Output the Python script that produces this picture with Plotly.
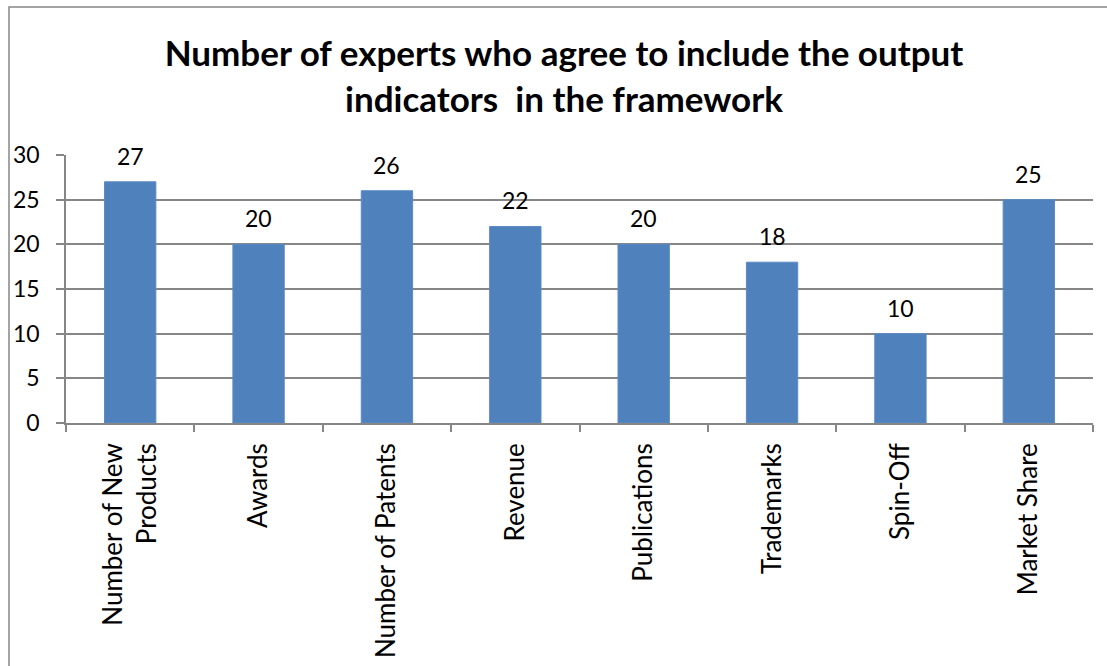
import plotly.graph_objects as go

categories = ["Number of New<br>Products", "Awards", "Number of Patents", "Revenue",
              "Publications", "Trademarks", "Spin-Off", "Market Share"]
experts = [27, 20, 26, 22, 20, 18, 10, 25]
y_ticks = [0, 5, 10, 15, 20, 25, 30]

FONT = "Lato"
BAR = "#4F81BD"
LINE = "#868686"

fig = go.Figure()
fig.add_trace(go.Bar(
    x=categories, y=experts,
    marker=dict(color=BAR, line=dict(color="#5b8bc5", width=1)),
    width=0.4,
    hoverinfo="x+y",
))

# value labels above each bar
for c, v in zip(categories, experts):
    fig.add_annotation(x=c, y=v, text=str(v), showarrow=False,
                       yanchor="middle", yshift=26,
                       font=dict(family=FONT, size=23, color="black"))

# outer chart frame
fig.add_shape(type="rect", xref="paper", yref="paper",
              x0=(9 - 66) / 1027, x1=1.2, y0=-2, y1=(423 - 7) / 268,
              line=dict(color=LINE, width=1.5), layer="below")

fig.update_layout(
    width=1107, height=666,
    margin=dict(l=66, r=14, t=155, b=243, autoexpand=False),
    paper_bgcolor="white", plot_bgcolor="white",
    showlegend=False,
    title=dict(text="<b>Number of experts who agree to include the output<br>indicators  in the framework</b>",
               x=564 / 1107, xanchor="center", y=1 - 66 / 666, yanchor="middle",
               font=dict(family=FONT, size=35, color="black")),
    font=dict(family=FONT, size=22, color="black"),
)
fig.update_xaxes(
    type="category", range=[-0.5, 7.5], automargin=False,
    showline=True, linecolor=LINE, linewidth=1.5,
    ticks="outside", tickson="boundaries", ticklen=7, tickcolor=LINE, tickwidth=1.5,
    tickangle=-90, ticklabelstandoff=8,
    tickfont=dict(family=FONT, size=26, color="black"),
    showgrid=False,
)
fig.update_yaxes(
    range=[0, 30], tickvals=y_ticks, automargin=False,
    showline=True, linecolor=LINE, linewidth=1.5,
    ticks="outside", ticklen=8, tickcolor=LINE, tickwidth=1.5,
    showgrid=True, gridcolor=LINE, gridwidth=1.5,
    zeroline=False, ticklabelstandoff=12,
    tickfont=dict(family=FONT, size=23, color="black"),
)

fig.write_html("out.html")
